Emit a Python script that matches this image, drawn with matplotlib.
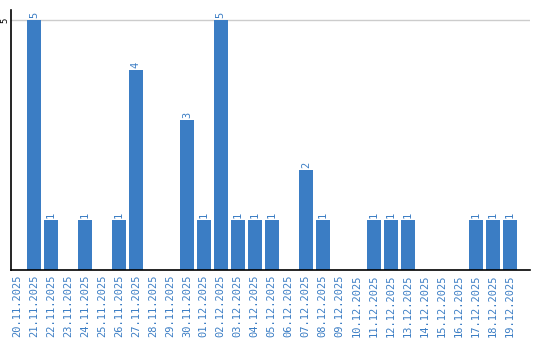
import matplotlib
matplotlib.use("Agg")
import matplotlib.pyplot as plt

dates = ["20.11.2025", "21.11.2025", "22.11.2025", "23.11.2025", "24.11.2025",
         "25.11.2025", "26.11.2025", "27.11.2025", "28.11.2025", "29.11.2025",
         "30.11.2025", "01.12.2025", "02.12.2025", "03.12.2025", "04.12.2025",
         "05.12.2025", "06.12.2025", "07.12.2025", "08.12.2025", "09.12.2025",
         "10.12.2025", "11.12.2025", "12.12.2025", "13.12.2025", "14.12.2025",
         "15.12.2025", "16.12.2025", "17.12.2025", "18.12.2025", "19.12.2025"]
values = [0, 5, 1, 0, 1, 0, 1, 4, 0, 0,
          3, 1, 5, 1, 1, 1, 0, 2, 1, 0,
          0, 1, 1, 1, 0, 0, 0, 1, 1, 1]

bar_color = "#3b7dc4"
text_color = "#3b7dc4"

fig = plt.figure(figsize=(5.4, 3.4), dpi=100)
ax = fig.add_axes([11/540, 70/340, 519/540, 260/340])

x = list(range(len(dates)))
ax.bar(x, values, width=0.82, color=bar_color, zorder=2)

for xi, v in zip(x, values):
    if v > 0:
        ax.text(xi, v + 0.04, str(v), rotation=90, ha="center", va="bottom",
                color=text_color, fontsize=7.5, family="DejaVu Sans Mono")

ax.set_xlim(-0.35, 30.2)
ax.set_ylim(0, 5.2)
ax.set_xticks(x)
ax.set_xticklabels(dates, rotation=90, color=text_color, fontsize=7.5,
                   family="DejaVu Sans Mono")
ax.set_yticks([5])
ax.set_yticklabels(["5"], rotation=90, va="center", fontsize=6.5,
                   family="DejaVu Sans Mono")
ax.tick_params(axis="x", length=0, pad=3)
ax.tick_params(axis="y", length=0, pad=1)
ax.axhline(5, color="#cccccc", linewidth=1, zorder=1)

for s in ["top", "right"]:
    ax.spines[s].set_visible(False)
ax.spines["left"].set_linewidth(1.2)
ax.spines["bottom"].set_linewidth(1.2)

fig.savefig("out.png", dpi=100)
